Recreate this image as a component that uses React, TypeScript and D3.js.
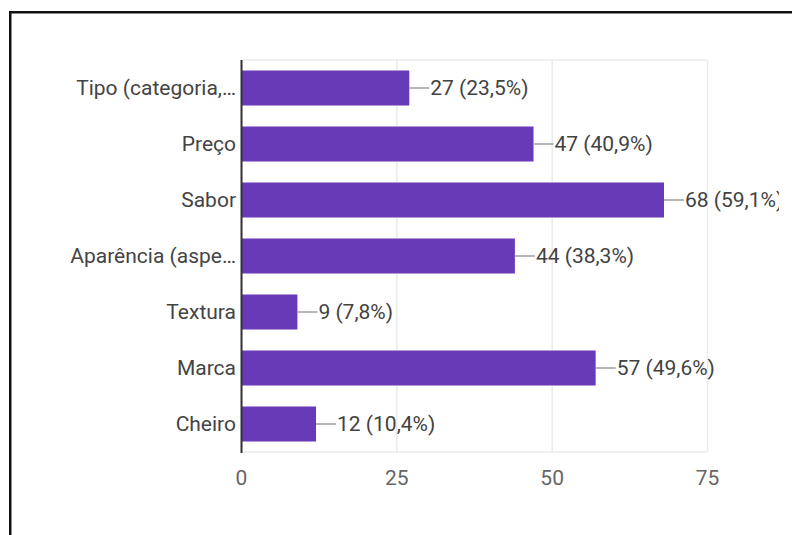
import React from "react";
import * as d3 from "d3";

const categories = [
  "Tipo (categoria,…",
  "Preço",
  "Sabor",
  "Aparência (aspe…",
  "Textura",
  "Marca",
  "Cheiro",
];
const counts = [27, 47, 68, 44, 9, 57, 12];
const percents = [23.5, 40.9, 59.1, 38.3, 7.8, 49.6, 10.4];
const xTicks = [0, 25, 50, 75];

const W = 792;
const H = 535;
const FONT = "Roboto, 'Noto Sans', sans-serif";
const FS = 21;

export default function App() {
  const x = d3.scaleLinear().domain([0, 75]).range([241.5, 707.5]);
  const y = d3.scaleBand<string>().domain(categories).range([60, 452]).paddingInner(0.375).paddingOuter(0.1875);
  const fmtPct = (p: number) => p.toFixed(1).replace(".", ",");

  return (
    <svg width={W} height={H} style={{ position: "absolute", left: 0, top: 0, background: "#fff" }}>
      <defs>
        <clipPath id="clipR">
          <rect x={0} y={0} width={779} height={H} />
        </clipPath>
      </defs>
      <rect x={0} y={0} width={W} height={H} fill="#fff" />
      {/* frame lines */}
      <rect x={9} y={11} width={W - 9} height={2.5} fill="#111" />
      <rect x={9} y={11} width={2.5} height={H - 11} fill="#111" />

      {/* grid */}
      <line x1={x(0)} x2={x(75)} y1={60} y2={60} stroke="#ebebeb" strokeWidth={1.5} />
      <line x1={x(0)} x2={x(75)} y1={452} y2={452} stroke="#ebebeb" strokeWidth={1.5} />
      {xTicks.filter((t) => t > 0).map((t) => (
        <line key={t} x1={x(t)} x2={x(t)} y1={60} y2={452} stroke="#ebebeb" strokeWidth={1.5} />
      ))}

      {/* bars */}
      {categories.map((c, i) => {
        const yy = y(c)!;
        const bw = y.bandwidth();
        const xe = x(counts[i]);
        const cy = yy + bw / 2;
        return (
          <g key={c}>
            <rect x={x(0)} y={yy} width={xe - x(0)} height={bw} fill="#673ab7" />
            <line x1={xe} x2={xe + 20} y1={cy} y2={cy} stroke="#9e9e9e" strokeWidth={1.5} />
            <text
              x={xe + 21}
              y={cy}
              dy="0.35em"
              fontFamily={FONT}
              fontSize={FS}
              fill="#424242"
              clipPath="url(#clipR)"
            >
              {`${counts[i]} (${fmtPct(percents[i])}%)`}
            </text>
            <text
              x={236}
              y={cy}
              dy="0.35em"
              textAnchor="end"
              fontFamily={FONT}
              fontSize={FS}
              fill="#444"
            >
              {c}
            </text>
          </g>
        );
      })}

      {/* axis line */}
      <line x1={x(0)} x2={x(0)} y1={60} y2={453} stroke="#333" strokeWidth={2} />

      {/* tick labels */}
      {xTicks.map((t) => (
        <text
          key={t}
          x={x(t)}
          y={478}
          dy="0.35em"
          textAnchor="middle"
          fontFamily={FONT}
          fontSize={FS}
          fill="#666"
        >
          {t}
        </text>
      ))}
    </svg>
  );
}
